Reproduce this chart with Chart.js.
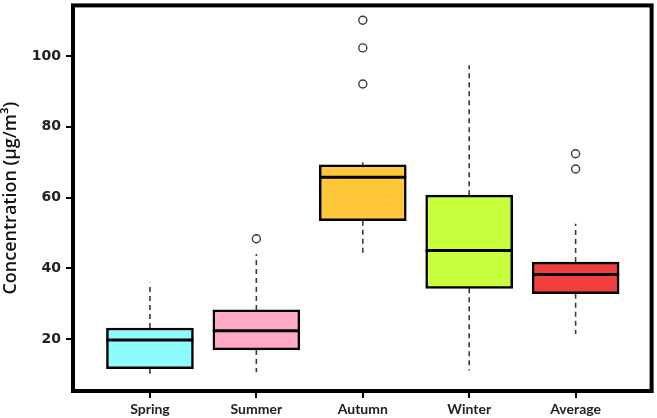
<!DOCTYPE html>
<html>
<head>
<meta charset="utf-8">
<script src="https://cdn.jsdelivr.net/npm/chart.js@4/dist/chart.umd.min.js"></script>
<style>
  html, body { margin: 0; padding: 0; background: #fff; }
  #wrap { width: 657px; height: 418px; }
</style>
</head>
<body>
<div id="wrap"><canvas id="myChart"></canvas></div>
<script>
// seasons
const categories = ['Spring', 'Summer', 'Autumn', 'Winter', 'Average'];
// box plot stats (µg/m3)
const lowerWhisker = [9.6, 10.7, 44.3, 11.2, 21.5];
const q1 = [11.7, 17.0, 53.5, 34.4, 32.9];
const median = [19.8, 22.4, 65.8, 45.1, 38.3];
const q3 = [23.2, 28.3, 69.3, 60.7, 41.8];
const upperWhisker = [36.0, 44.1, 70.0, 97.4, 52.6];
// outliers: category index + value
const outlierCat = [1, 2, 2, 2, 4, 4];
const outlierVal = [48.4, 110.1, 102.3, 92.1, 72.4, 68.1];
const yTicks = [20, 40, 60, 80, 100];
const boxColors = ['#8cfcfc', '#ffabc8', '#ffc83a', '#c8ff3c', '#ef3f3f'];

const whiskerData = [];
categories.forEach((c, i) => {
    whiskerData.push({ x: i, y: q3[i] }, { x: i, y: upperWhisker[i] }, { x: i, y: null });
    whiskerData.push({ x: i, y: q1[i] }, { x: i, y: lowerWhisker[i] }, { x: i, y: null });
});

const medianAndFrame = {
    id: 'medianAndFrame',
    afterDatasetsDraw(chart) {
        const ctx = chart.ctx;
        const yScale = chart.scales.y;
        const meta = chart.getDatasetMeta(0);
        ctx.save();
        ctx.strokeStyle = '#000';
        ctx.lineWidth = 3;
        meta.data.forEach((bar, i) => {
            const y = yScale.getPixelForValue(median[i]);
            ctx.beginPath();
            ctx.moveTo(bar.x - bar.width / 2, y);
            ctx.lineTo(bar.x + bar.width / 2, y);
            ctx.stroke();
        });
        const a = chart.chartArea;
        ctx.lineWidth = 4;
        ctx.strokeRect(a.left, a.top, a.right - a.left, a.bottom - a.top);
        ctx.restore();
    }
};

const ctx = document.getElementById('myChart').getContext('2d');
new Chart(ctx, {
    data: {
        datasets: [{
            type: 'bar',
            order: 0,
            data: categories.map((c, i) => ({ x: i, y: [q1[i], q3[i]] })),
            backgroundColor: boxColors,
            borderColor: '#000',
            borderWidth: 2.5,
            borderSkipped: false,
            barThickness: 87
        }, {
            type: 'line',
            order: 1,
            data: whiskerData,
            borderColor: '#3a3a3a',
            borderWidth: 1.6,
            borderDash: [5, 4],
            pointRadius: 0,
            spanGaps: false,
            fill: false
        }, {
            type: 'scatter',
            order: 0,
            data: outlierCat.map((c, i) => ({ x: c, y: outlierVal[i] })),
            pointRadius: 4,
            pointBorderWidth: 1.4,
            pointBorderColor: '#3a3a3a',
            pointBackgroundColor: '#fff'
        }]
    },
    options: {
        responsive: true,
        maintainAspectRatio: false,
        animation: false,
        layout: { padding: { top: 3, right: 5, left: 0, bottom: 0 } },
        plugins: { legend: { display: false }, tooltip: { enabled: false } },
        scales: {
            x: {
                type: 'linear',
                offset: false,
                min: -0.723,
                max: 4.714,
                afterBuildTicks: (scale) => { scale.ticks = categories.map((c, i) => ({ value: i })); },
                afterFit: (scale) => { scale.height = 27; scale.paddingLeft = 0; scale.paddingRight = 0; },
                ticks: {
                    callback: (v) => categories[v],
                    color: '#222',
                    font: { family: 'Lato', weight: 'bold', size: 14 },
                    padding: 3,
                    maxRotation: 0
                },
                grid: { offset: false, drawOnChartArea: false, drawTicks: true, tickLength: 7, color: '#000', lineWidth: 2 },
                border: { display: false }
            },
            y: {
                min: 5.4,
                max: 114.3,
                afterBuildTicks: (scale) => { scale.ticks = yTicks.map(v => ({ value: v })); },
                afterFit: (scale) => { scale.width = 73; scale.paddingTop = 0; scale.paddingBottom = 0; },
                title: {
                    display: true,
                    text: 'Concentration (µg/m³)',
                    color: '#111',
                    font: { family: 'Open Sans', weight: '600', size: 18 },
                    padding: { top: 0, bottom: 0 }
                },
                ticks: {
                    color: '#222',
                    font: { family: 'DejaVu Sans', weight: 'bold', size: 14 },
                    padding: 5
                },
                grid: { drawOnChartArea: false, drawTicks: true, tickLength: 7, color: '#000', lineWidth: 2 },
                border: { display: false }
            }
        }
    },
    plugins: [medianAndFrame]
});
</script>
</body>
</html>
